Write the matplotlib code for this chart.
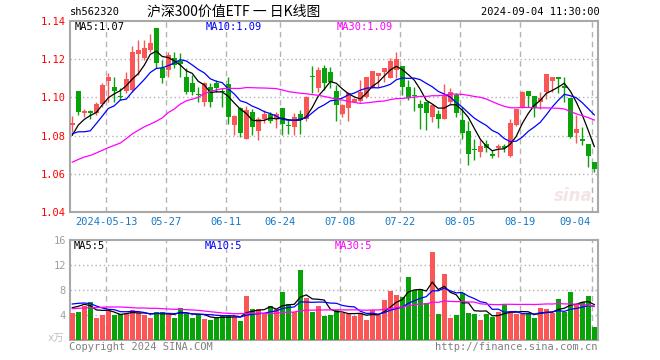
import matplotlib
matplotlib.use('Agg')
import matplotlib.pyplot as plt
import matplotlib.transforms as mtransforms
import numpy as np
import pandas as pd

# daily candles, 2024-04-30 .. 2024-09-04 (index 0..87)
opens = [1.0855, 1.1035, 1.0919, 1.0928, 1.0916, 1.0968, 1.1088, 1.1056, 1.1009, 1.1035,
         1.1039, 1.1228, 1.1205, 1.1249, 1.1363, 1.1153, 1.1144, 1.1205, 1.1193, 1.1109,
         1.1074, 1.1019, 1.0977, 1.1056, 1.1077, 1.1032, 1.1068, 1.0858, 1.0946, 1.0784,
         1.0925, 1.0825, 1.0886, 1.0914, 1.0886, 1.0946, 1.0853, 1.0846, 1.0911, 1.0886,
         1.1111, 1.1047, 1.1153, 1.1132, 1.1035, 1.0911, 1.0946, 1.0978, 1.0981, 1.1004,
         1.1047, 1.1112, 1.1132, 1.1100, 1.1144, 1.1167, 1.1056, 1.1011, 1.0968, 1.0977,
         1.0898, 1.0911, 1.0886, 1.0977, 1.1012, 1.0881, 1.0825, 1.0728, 1.0714, 1.0758,
         1.0702, 1.0735, 1.0744, 1.0693, 1.0854, 1.0946, 1.1035, 1.1009, 1.0977, 1.1026,
         1.1086, 1.1109, 1.1060, 1.0998, 1.0814, 1.0784, 1.0758, 1.0661]
highs = [1.0904, 1.1035, 1.0939, 1.0935, 1.0977, 1.1074, 1.1126, 1.1109, 1.1047, 1.1135,
         1.1267, 1.1302, 1.1302, 1.1332, 1.1363, 1.1196, 1.1237, 1.1237, 1.1232, 1.1153,
         1.1118, 1.1056, 1.1080, 1.1074, 1.1091, 1.1047, 1.1109, 1.0907, 1.0950, 1.0956,
         1.0939, 1.0898, 1.0933, 1.0925, 1.0925, 1.0946, 1.0889, 1.0916, 1.0935, 1.1009,
         1.1167, 1.1161, 1.1170, 1.1161, 1.1065, 1.0968, 1.1030, 1.0995, 1.1091, 1.1109,
         1.1139, 1.1130, 1.1153, 1.1205, 1.1240, 1.1167, 1.1091, 1.1056, 1.0986, 1.0977,
         1.0968, 1.0933, 1.1068, 1.1047, 1.1021, 1.0951, 1.0877, 1.0784, 1.0779, 1.0779,
         1.0723, 1.0758, 1.0758, 1.0889, 1.0939, 1.1033, 1.1035, 1.1009, 1.1030, 1.1121,
         1.1109, 1.1109, 1.1109, 1.0998, 1.0907, 1.0846, 1.0758, 1.0661]
lows = [1.0819, 1.0907, 1.0898, 1.0889, 1.0907, 1.0951, 1.0977, 1.0977, 1.0986, 1.1021,
        1.1030, 1.1118, 1.1196, 1.1240, 1.1153, 1.1074, 1.1109, 1.1153, 1.1109, 1.1016,
        1.1012, 1.0977, 1.0954, 1.0951, 1.1030, 1.0951, 1.0863, 1.0802, 1.0793, 1.0781,
        1.0802, 1.0779, 1.0868, 1.0868, 1.0840, 1.0802, 1.0810, 1.0802, 1.0810, 1.0879,
        1.1021, 1.1030, 1.1039, 1.1047, 1.0875, 1.0895, 1.0875, 1.0975, 1.0974, 1.0998,
        1.1047, 1.1056, 1.1082, 1.1100, 1.1100, 1.1012, 1.0986, 1.0928, 1.0833, 1.0828,
        1.0872, 1.0840, 1.0886, 1.0963, 1.0898, 1.0781, 1.0644, 1.0670, 1.0688, 1.0714,
        1.0682, 1.0688, 1.0714, 1.0688, 1.0851, 1.0946, 1.0951, 1.0898, 1.0939, 1.0991,
        1.1030, 1.1021, 1.0977, 1.0788, 1.0763, 1.0749, 1.0635, 1.0609]
closes = [1.0865, 1.0925, 1.0930, 1.0916, 1.0968, 1.1065, 1.1109, 1.1035, 1.1000, 1.1096,
          1.1240, 1.1249, 1.1258, 1.1284, 1.1179, 1.1100, 1.1223, 1.1170, 1.1175, 1.1030,
          1.1030, 1.1015, 1.1077, 1.0977, 1.1047, 1.1028, 1.0898, 1.0904, 1.0816, 1.0935,
          1.0846, 1.0889, 1.0914, 1.0875, 1.0914, 1.0863, 1.0849, 1.0898, 1.0881, 1.1004,
          1.1107, 1.1144, 1.1077, 1.1082, 1.0960, 1.0960, 1.1021, 1.0990, 1.1030, 1.1109,
          1.1139, 1.1130, 1.1153, 1.1188, 1.1202, 1.1056, 1.0998, 1.1007, 1.0946, 1.0916,
          1.0960, 1.0889, 1.1012, 1.1030, 1.0916, 1.0816, 1.0705, 1.0724, 1.0746, 1.0735,
          1.0693, 1.0746, 1.0735, 1.0868, 1.0939, 1.1030, 1.1009, 1.0946, 1.0998, 1.1121,
          1.1109, 1.1096, 1.1047, 1.0793, 1.0833, 1.0770, 1.0691, 1.0626]
# volume in 万
volumes = [4.37, 4.53, 5.49, 6.13, 3.57, 3.95, 4.69, 4.00, 4.21, 4.27,
           4.85, 4.32, 4.00, 3.57, 4.53, 4.53, 4.32, 3.57, 5.17, 4.21,
           3.57, 4.00, 3.41, 3.25, 3.57, 3.95, 4.05, 3.68, 3.09, 7.09,
           5.01, 5.01, 4.11, 5.49, 5.01, 7.73, 5.81, 4.53, 11.25, 6.77,
           4.53, 5.49, 3.89, 4.05, 4.75, 4.27, 4.16, 3.89, 4.27, 3.25,
           4.80, 4.00, 6.35, 7.79, 7.25, 6.93, 10.13, 7.95, 8.21, 5.97,
           14.03, 4.21, 10.51, 3.47, 3.95, 7.52, 4.37, 4.11, 3.15, 4.11,
           3.63, 4.53, 5.60, 4.32, 4.21, 4.11, 4.32, 3.47, 5.17, 4.91,
           4.37, 6.51, 4.43, 7.63, 5.65, 6.03, 6.99, 2.03]

# moving-average values shown before enough bars are in view
ma5_head = [1.0802, 1.0855, 1.0885, 1.0905]
ma10_head = [1.0810, 1.0820, 1.0820, 1.0825, 1.0863, 1.0902, 1.0942, 1.0956, 1.0986]
ma30_head = [1.0661, 1.0675, 1.0688, 1.0696, 1.0709, 1.0723, 1.0737, 1.0749, 1.0761, 1.0784,
             1.0809, 1.0828, 1.0846, 1.0860, 1.0875, 1.0893, 1.0921, 1.0939, 1.0965, 1.0982,
             1.0991, 1.1000, 1.1021, 1.1030, 1.1039, 1.1046, 1.1047, 1.1047, 1.1047]
vma5_head = [5.17, 5.39, 5.71, 5.49]
vma10_head = [5.76, 5.87, 5.92, 5.81, 5.44, 5.12, 4.91, 4.85, 4.53]
vma30_head = [5.01, 5.07, 5.12, 5.17, 5.17, 5.23, 5.28, 5.28, 5.28, 5.23,
              5.17, 5.12, 5.12, 5.07, 5.07, 5.01, 4.96, 4.91, 4.91, 4.85,
              4.80, 4.75, 4.64, 4.53, 4.43, 4.32, 4.27, 4.21, 4.21]

tick_idx = [6, 16, 26, 35, 45, 55, 65, 75, 87]
tick_labels = ['2024-05-13', '05-27', '06-11', '06-24', '07-08', '07-22', '08-05', '08-19', '09-04']


def moving_avg(values, n, head):
    s = pd.Series(values).rolling(n).mean().to_numpy()
    s[:len(head)] = head
    return s


RED = '#fa5656'
GREEN = '#08a308'
FRAME = '#a8a8a8'
GRID = '#b4b4b4'
MONO = ['DejaVu Sans Mono', 'Noto Sans CJK SC']
LW = 0.9

o = np.array(opens)
h = np.array(highs)
l = np.array(lows)
c = np.array(closes)
v = np.array(volumes)
x = np.arange(len(c))
up = c >= o
colors = np.where(up, RED, GREEN)

W, H = 660, 360
fig = plt.figure(figsize=(6.6, 3.6), dpi=100)
ax1 = fig.add_axes([70 / W, 1 - 212 / H, 528 / W, 191 / H])
ax2 = fig.add_axes([70 / W, 1 - 340 / H, 528 / W, 100 / H])

xmin, xmax = -0.38, 87.62
line_x = [i - 0.33 for i in tick_idx]

# price panel
ax1.vlines(x, l, h, colors=colors, linewidth=1, zorder=3)
body_lo = np.minimum(o, c)
body_h = np.maximum(np.abs(c - o), 0.0005)
ax1.bar(x, body_h, bottom=body_lo, width=0.8, color=colors, linewidth=0, zorder=4)
ax1.plot(x, moving_avg(c, 5, ma5_head), color='black', lw=LW, zorder=5)
ax1.plot(x, moving_avg(c, 10, ma10_head), color='#0000ff', lw=LW, zorder=5)
ax1.plot(x, moving_avg(c, 30, ma30_head), color='#ff00ff', lw=LW, zorder=5)
ax1.set_ylim(1.04, 1.14)
ax1.set_yticks([1.04, 1.06, 1.08, 1.10, 1.12, 1.14])
ax1.set_yticklabels(['%.2f' % t for t in ax1.get_yticks()], color='red', family=MONO, fontsize=7.5)
for yv in [1.06, 1.08, 1.10, 1.12]:
    ax1.axhline(yv, color=GRID, lw=1, ls=(0, (1, 2)), zorder=1)

# volume panel
ax2.bar(x, v, width=0.8, color=colors, linewidth=0, zorder=3)
ax2.plot(x, moving_avg(v, 5, vma5_head), color='black', lw=LW, zorder=5)
ax2.plot(x, moving_avg(v, 10, vma10_head), color='#0000ff', lw=LW, zorder=5)
ax2.plot(x, moving_avg(v, 30, vma30_head), color='#ff00ff', lw=LW, zorder=5)
ax2.set_ylim(0, 16)
ax2.set_yticks([4, 8, 12, 16])
ax2.set_yticklabels(['4', '8', '12', '16'], color='#a0a0a0', family=MONO, fontsize=7.5)
for yv in [4, 8, 12]:
    ax2.axhline(yv, color=GRID, lw=1, ls=(0, (1, 2)), zorder=1)

for ax in (ax1, ax2):
    ax.set_xlim(xmin, xmax)
    ax.set_xticks([])
    ax.tick_params(axis='y', length=0, pad=3)
    for xv in line_x:
        ax.axvline(xv, color=GRID, lw=1, ls=(0, (4, 3)), zorder=1)
    for sp in ax.spines.values():
        sp.set_color(FRAME)
        sp.set_linewidth(1.5)

# date labels under the price panel
trans = mtransforms.blended_transform_factory(ax1.transData, fig.transFigure)
for k, (xv, lab) in enumerate(zip(line_x, tick_labels)):
    if k == len(tick_labels) - 1:
        ax1.text(xv - 0.2, 1 - 222 / H, lab, transform=trans, ha='right', va='center',
                 color='#1478c8', family=MONO, fontsize=7.5)
    else:
        ax1.text(xv, 1 - 222 / H, lab, transform=trans, ha='center', va='center',
                 color='#1478c8', family=MONO, fontsize=7.5)

# legends inside panels
def fig_text(px, py, s, **kw):
    fig.text(px / W, 1 - py / H, s, va='center', family=MONO, fontsize=7.5, **kw)

fig_text(75, 27, 'MA5:1.07', color='black')
fig_text(206, 27, 'MA10:1.09', color='#0000ff')
fig_text(337, 27, 'MA30:1.09', color='#ff00ff')
fig_text(74, 246, 'MA5:5', color='black')
fig_text(205, 246, 'MA10:5', color='#0000ff')
fig_text(335, 246, 'MA30:5', color='#ff00ff')

# header
fig_text(70, 12, 'sh562320', color='black')
fig.text(234 / W, 1 - 12 / H, '沪深300价值ETF 一 日K线图', ha='center', va='center',
         family=['Noto Sans CJK SC', 'DejaVu Sans'], fontsize=10, color='black')
fig_text(600, 12, '2024-09-04 11:30:00', color='black', ha='right')

# footer
fig_text(69, 347, 'Copyright 2024 SINA.COM', color='#808080')
fig_text(598, 347, 'http://finance.sina.com.cn', color='#808080', ha='right')
fig_text(48, 339, 'x万', color='#c0c0c0')

# faint watermark
fig.text(593 / W, 1 - 196 / H, 'sina', ha='right', va='center', fontsize=12,
         style='italic', weight='bold', color='#ecd4d4', alpha=0.6)

fig.savefig('out.png', dpi=100)
